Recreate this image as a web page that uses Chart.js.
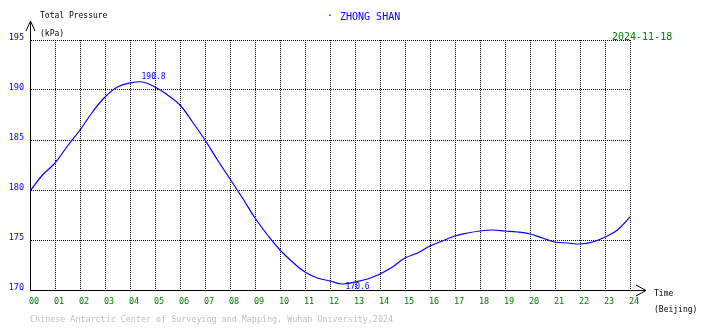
<!DOCTYPE html>
<html>
<head>
<meta charset="utf-8">
<script src="https://cdn.jsdelivr.net/npm/chart.js@4/dist/chart.umd.min.js"></script>
<style>
  html, body { margin: 0; padding: 0; background: #fff; }
  #wrap { width: 710px; height: 328px; }
</style>
</head>
<body>
<div id="wrap"><canvas id="pressureChart" width="710" height="328"></canvas></div>
<script>
// ========================================
// Zhong Shan - total pressure, one day
// ========================================

const stationName = 'ZHONG SHAN';
const dateLabel = '2024-11-18';
const yTitle = ['Total Pressure', '(kPa)'];
const xTitle = ['Time', '(Beijing)'];
const footer = 'Chinese Antarctic Center of Surveying and Mapping, Wuhan University,2024';

// hour of day (Beijing time)
const hours = [
    0, 0.5, 1, 1.5, 2, 2.5, 3, 3.5, 4, 4.5, 5, 5.5, 6, 6.5, 7, 7.5, 8, 8.5,
    9, 9.5, 10, 10.5, 11, 11.5, 12, 12.5, 13, 13.5, 14, 14.5, 15, 15.5, 16, 16.5,
    17, 17.5, 18, 18.5, 19, 19.5, 20, 20.5, 21, 21.5, 22, 22.5, 23, 23.5, 24
];

// total pressure, kPa
const pressure = [
    179.9, 181.5, 182.7, 184.4, 186.0, 187.8, 189.3, 190.3, 190.7, 190.8, 190.3, 189.5, 188.5, 186.8, 185.0, 183.0, 181.1, 179.2,
    177.2, 175.5, 174.0, 172.8, 171.8, 171.2, 170.9, 170.6, 170.8, 171.1, 171.6, 172.3, 173.2, 173.7, 174.4, 174.9,
    175.4, 175.7, 175.9, 176.0, 175.9, 175.8, 175.6, 175.2, 174.8, 174.7, 174.6, 174.8, 175.3, 176.0, 177.3
];

const yTicks = [170, 175, 180, 185, 190, 195];

const FONT = '"DejaVu Sans Mono", monospace';

// texts, arrows and extreme labels
const decor = {
    id: 'decor',
    afterDraw(chart) {
        const { ctx, chartArea: a, scales: { x, y } } = chart;
        ctx.save();

        // axis arrows
        ctx.strokeStyle = '#000';
        ctx.lineWidth = 1;
        ctx.beginPath();
        ctx.moveTo(a.left + 0.5, a.top);
        ctx.lineTo(a.left + 0.5, 21);
        ctx.moveTo(a.left - 4, 31);
        ctx.lineTo(a.left + 0.5, 21);
        ctx.lineTo(a.left + 5, 31);
        ctx.moveTo(a.right, a.bottom + 0.5);
        ctx.lineTo(646, a.bottom + 0.5);
        ctx.moveTo(636, a.bottom - 5);
        ctx.lineTo(646, a.bottom + 0.5);
        ctx.lineTo(636, a.bottom + 6);
        ctx.stroke();

        ctx.textBaseline = 'middle';
        ctx.textAlign = 'left';

        // axis titles
        ctx.fillStyle = '#000';
        ctx.font = '8px ' + FONT;
        ctx.fillText(yTitle[0], 40, 16);
        ctx.fillText(yTitle[1], 40, 34);
        ctx.fillText(xTitle[0], 654, 294);
        ctx.fillText(xTitle[1], 654, 310);

        // station and date
        ctx.font = '10px ' + FONT;
        ctx.fillStyle = '#0000ff';
        ctx.fillText('\u00b7', 327, 16);
        ctx.fillText(stationName, 340, 17);
        ctx.fillStyle = '#008000';
        ctx.fillText(dateLabel, 612, 37);

        // footer
        ctx.fillStyle = '#c0c0c0';
        ctx.font = '8.4px ' + FONT;
        ctx.fillText(footer, 30, 320);

        // max / min values
        const iMax = pressure.indexOf(Math.max(...pressure));
        const iMin = pressure.indexOf(Math.min(...pressure));
        ctx.fillStyle = '#0000ff';
        ctx.font = '8px ' + FONT;
        ctx.textBaseline = 'bottom';
        ctx.fillText(pressure[iMax].toFixed(1), x.getPixelForValue(hours[iMax]) - 1, y.getPixelForValue(pressure[iMax]) - 1);
        ctx.textBaseline = 'top';
        ctx.fillText(pressure[iMin].toFixed(1), x.getPixelForValue(hours[iMin]) + 3, y.getPixelForValue(pressure[iMin]) - 1);

        ctx.restore();
    }
};

new Chart(document.getElementById('pressureChart'), {
    type: 'line',
    data: {
        datasets: [{
            data: hours.map((h, i) => ({ x: h, y: pressure[i] })),
            borderColor: '#0000ff',
            borderWidth: 1.2,
            pointRadius: 0,
            tension: 0.4,
            fill: false
        }]
    },
    options: {
        responsive: false,
        animation: false,
        devicePixelRatio: 1,
        layout: { padding: { top: 40, right: 80, left: 0, bottom: 0 } },
        plugins: {
            legend: { display: false },
            tooltip: { enabled: false }
        },
        scales: {
            x: {
                type: 'linear',
                min: 0,
                max: 24,
                afterFit: s => { s.height = 38; },
                grid: { color: '#000', drawTicks: false },
                border: { display: true, color: '#000', width: 1, dash: [1, 1] },
                ticks: {
                    stepSize: 1,
                    autoSkip: false,
                    maxRotation: 0,
                    padding: 7,
                    labelOffset: 4,
                    color: '#008000',
                    font: { family: FONT, size: 8.5 },
                    callback: v => String(v).padStart(2, '0')
                }
            },
            y: {
                min: 170,
                max: 195,
                afterFit: s => { s.width = 30; },
                afterBuildTicks: s => { s.ticks = yTicks.map(v => ({ value: v })); },
                grid: { color: '#000', drawTicks: false },
                border: { display: true, color: '#000', width: 1, dash: [1, 1] },
                ticks: {
                    padding: 6,
                    labelOffset: -2,
                    color: '#0000ff',
                    font: { family: FONT, size: 8.5 }
                }
            }
        }
    },
    plugins: [decor]
});
</script>
</body>
</html>
